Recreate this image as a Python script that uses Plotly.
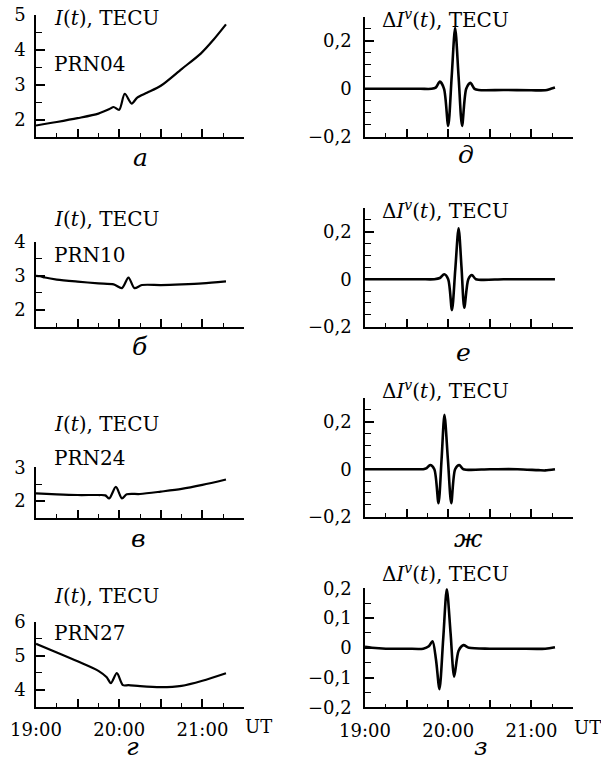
import plotly.graph_objects as go

W, H = 601, 762

# ---------------- data (time in minutes after 19:00 UT) ----------------
# Left column: I(t), TECU
t_a = [0, 15, 30, 45, 53, 56, 60, 64, 69, 73, 80, 90, 105, 119, 128, 137]
i_a = [1.83, 1.93, 2.04, 2.17, 2.30, 2.36, 2.28, 2.74, 2.46, 2.63, 2.77, 2.97, 3.45, 3.90, 4.29, 4.73]

t_b = [0, 3, 6.5, 15, 30, 45, 56, 62, 66.7, 71, 76.4, 90, 105, 120, 137]
i_b = [3.00, 2.99, 2.95, 2.89, 2.83, 2.78, 2.75, 2.64, 2.95, 2.64, 2.73, 2.73, 2.75, 2.78, 2.84]

t_c = [0, 15, 30, 45, 50, 52.8, 57.6, 62, 65.5, 75, 90, 105, 120, 137]
i_c = [2.23, 2.20, 2.18, 2.18, 2.17, 2.08, 2.42, 2.08, 2.20, 2.21, 2.28, 2.36, 2.48, 2.64]

t_d = [0, 15, 30, 45, 51, 54, 58.3, 62.7, 66.7, 75, 90, 105, 120, 137]
i_d = [5.35, 5.10, 4.84, 4.56, 4.37, 4.20, 4.49, 4.14, 4.14, 4.11, 4.08, 4.12, 4.27, 4.49]

# Right column: dI^v(t), TECU
t_e = [0, 20, 40, 48, 51, 54, 57, 60, 62.5, 65, 67.5, 70, 73, 76, 79, 82, 100, 120, 130, 134, 137]
v_e = [0, 0, 0, 0, 0.005, 0.03, 0, -0.155, 0.05, 0.255, 0.05, -0.155, 0, 0.025, 0.0, -0.005,
       -0.005, -0.006, -0.006, 0.0, 0.005]

t_f = [0, 20, 40, 50, 54, 57.1, 60, 62.7, 65.1, 67.5, 69.6, 71.6, 74.5, 77.1, 80, 100, 120, 137]
v_f = [0, 0, 0, 0, 0.005, 0.021, 0, -0.13, 0.04, 0.215, 0.05, -0.12, 0, 0.018, 0, 0, 0, 0]

t_g = [0, 20, 38, 42, 44.5, 47, 50, 53, 55.2, 57.3, 59.8, 62.2, 65, 68, 71, 90, 110, 125, 130, 137]
v_g = [0, 0, 0, 0, 0.005, 0.018, 0, -0.143, 0.04, 0.229, 0.04, -0.143, 0, 0.018, 0, 0, 0, -0.004,
       -0.005, 0]

t_h = [0, 5, 15, 30, 42, 46, 48.7, 51.2, 53.7, 56.4, 59, 61.7, 64.3, 67.5, 71, 75, 90, 110, 130, 137]
v_h = [0.003, 0.0, -0.003, -0.003, -0.003, 0.005, 0.022, -0.04, -0.139, 0.03, 0.197, 0.05, -0.097,
       -0.01, 0.009, 0, -0.003, -0.003, -0.003, 0.002]

left_series = [(t_a, i_a), (t_b, i_b), (t_c, i_c), (t_d, i_d)]
right_series = [(t_e, v_e), (t_f, v_f), (t_g, v_g), (t_h, v_h)]

prn_labels = ["PRN04", "PRN10", "PRN24", "PRN27"]
left_letters = ["а", "б", "в", "г"]
right_letters = ["д", "е", "ж", "з"]

left_ranges = [[1.5, 5], [1.5, 4], [1.5, 3], [3.5, 6]]
left_ticks = [[2, 3, 4, 5], [2, 3, 4], [2, 3], [4, 5, 6]]
right_ranges = [[-0.2, 0.3], [-0.2, 0.3], [-0.2, 0.3], [-0.2, 0.2]]
right_ticks = [[-0.2, 0, 0.2], [-0.2, 0, 0.2], [-0.2, 0, 0.2], [-0.2, -0.1, 0, 0.1, 0.2]]

x_tickvals = [0, 30, 60, 90, 120, 150]
x_ticktext = ["19:00", " ", "20:00", " ", "21:00", " "]


def fmt(v):
    if abs(v) < 1e-9:
        return "0"
    if abs(v - round(v)) < 1e-9:
        return str(int(round(v)))
    s = ("%.1f" % abs(v)).replace(".", ",")
    return ("−" if v < 0 else "") + s


# ---------------- layout geometry (pixels) ----------------
LX = (36, 244)
RX = (365, 573)
left_rows = [(15, 137), (241.7, 327), (467.3, 518), (621.7, 707)]
right_rows = [(17, 136.7), (208, 326.7), (398, 516.7), (588.3, 707.3)]

FONT = "DejaVu Serif"
TICK = 18
TXT = 20
fig = go.Figure()
layout = dict(
    width=W, height=H, margin=dict(l=0, r=0, t=0, b=0, autoexpand=False),
    paper_bgcolor="white", plot_bgcolor="white", showlegend=False,
    font=dict(family=FONT, size=TICK, color="black"),
)
annotations = []


def px2x(p):
    return p / W


def px2y(p):
    return 1 - p / H


def add_panel(idx, xpx, ypx, t, v, yrange, yticks, ydt_minor, bottom, lw, ystand):
    xa = "xaxis" if idx == 1 else "xaxis%d" % idx
    ya = "yaxis" if idx == 1 else "yaxis%d" % idx
    xr = "x" if idx == 1 else "x%d" % idx
    yr = "y" if idx == 1 else "y%d" % idx
    fig.add_trace(go.Scatter(x=t, y=v, mode="lines", xaxis=xr, yaxis=yr,
                             line=dict(color="black", width=lw, shape="spline", smoothing=0.8),
                             hoverinfo="skip"))
    layout[xa] = dict(
        domain=[px2x(xpx[0]), px2x(xpx[1])], anchor=yr, range=[0, 150], automargin=False,
        showgrid=False, zeroline=False, showline=True, linecolor="black", linewidth=1.6,
        ticks="inside", ticklen=8, tickwidth=1.6, tickcolor="black",
        tickvals=x_tickvals, ticktext=x_ticktext, showticklabels=bottom,
        ticklabelstandoff=6, tickfont=dict(family=FONT, size=TICK),
        minor=dict(ticks="inside", ticklen=4, tickwidth=1.4, tickcolor="black", dtick=15, tick0=0),
        fixedrange=True,
    )
    layout[ya] = dict(
        domain=[px2y(ypx[1]), px2y(ypx[0])], anchor=xr, range=yrange, automargin=False,
        showgrid=False, zeroline=False, showline=True, linecolor="black", linewidth=1.6,
        ticks="inside", ticklen=9, tickwidth=1.6, tickcolor="black",
        tickvals=yticks, ticktext=[fmt(y) for y in yticks],
        ticklabelstandoff=ystand, tickfont=dict(family=FONT, size=TICK),
        minor=dict(ticks="inside", ticklen=6, tickwidth=1.4, tickcolor="black",
                   dtick=ydt_minor, tick0=0),
        fixedrange=True,
    )


def ann(text, xp, yp, xanchor="left", size=TXT, yanchor="middle"):
    annotations.append(dict(text=text, x=px2x(xp), y=px2y(yp), xref="paper", yref="paper",
                            xanchor=xanchor, yanchor=yanchor, showarrow=False, borderpad=0,
                            font=dict(family=FONT, size=size, color="black")))


for k in range(4):
    t, v = left_series[k]
    add_panel(k + 1, LX, left_rows[k], t, v, left_ranges[k], left_ticks[k], 0.5, k == 3, 2.2, 5)
    t, v = right_series[k]
    add_panel(k + 5, RX, right_rows[k], t, v, right_ranges[k], right_ticks[k], 0.05, k == 3, 2.6, 8)

# Titles inside panels
title_I_y = [18, 219, 424, 596]
prn_y = [64.5, 255.5, 458, 632.5]
title_dI_y = [19, 210, 390, 573]
for k in range(4):
    ann("<i>I</i>(<i>t</i>), TECU", 53, title_I_y[k])
    ann(prn_labels[k], 53, prn_y[k])
    ann("Δ<i>I</i><sup><i>v</i></sup>(<i>t</i>), TECU", 381, title_dI_y[k])

# Panel letters
left_letter_pos = [(140, 157), (140, 347), (138, 538)]
right_letter_pos = [(466, 155), (463, 352), (468, 538)]
for k in range(3):
    ann("<i>%s</i>" % left_letters[k], left_letter_pos[k][0], left_letter_pos[k][1], "center", 25)
    ann("<i>%s</i>" % right_letters[k], right_letter_pos[k][0], right_letter_pos[k][1], "center", 25)
ann("<i>%s</i>" % left_letters[3], 132, 762, "center", 25, "bottom")
ann("<i>%s</i>" % right_letters[3], 481, 762, "center", 25, "bottom")

# UT labels
ann("UT", 258, 726, "center", TICK)
ann("UT", 587, 727, "center", TICK)

layout["annotations"] = annotations
fig.update_layout(**layout)
fig.write_html("out.html")
